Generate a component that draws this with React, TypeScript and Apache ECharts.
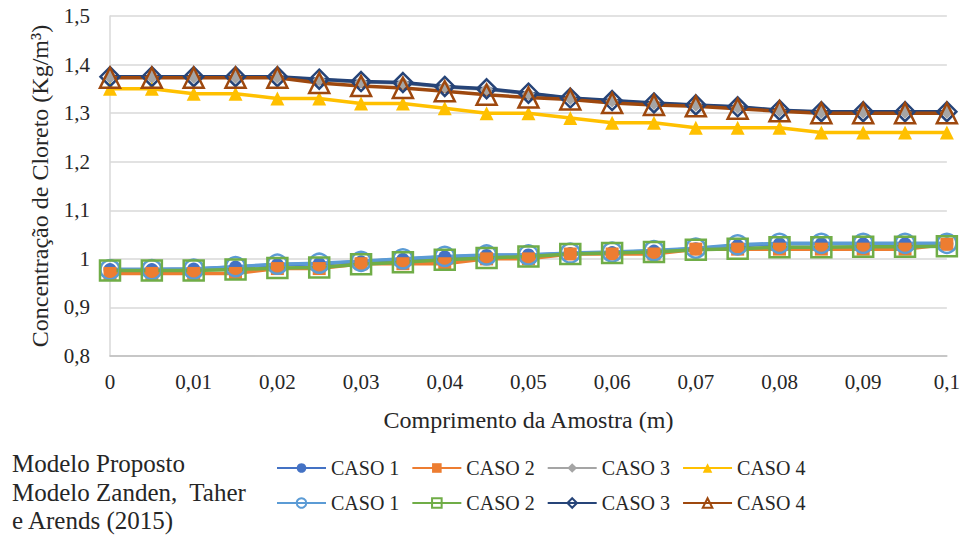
import React, { useEffect, useRef } from "react";
import * as echarts from "echarts";

const categories = [
  "0", "0,005", "0,01", "0,015", "0,02", "0,025", "0,03", "0,035", "0,04", "0,045", "0,05",
  "0,055", "0,06", "0,065", "0,07", "0,075", "0,08", "0,085", "0,09", "0,095", "0,1",
];

// Modelo Proposto
const propCaso1 = [0.978, 0.978, 0.979, 0.983, 0.988, 0.99, 0.994, 0.999, 1.004, 1.007, 1.008, 1.011, 1.013, 1.016, 1.021, 1.027, 1.031, 1.031, 1.031, 1.031, 1.031];
const propCaso2 = [0.97, 0.97, 0.97, 0.97, 0.98, 0.98, 0.99, 0.99, 0.99, 1.0, 1.0, 1.01, 1.01, 1.01, 1.02, 1.02, 1.02, 1.02, 1.02, 1.02, 1.03];
const propCaso3 = [1.374, 1.374, 1.374, 1.374, 1.374, 1.369, 1.364, 1.362, 1.354, 1.349, 1.34, 1.33, 1.325, 1.32, 1.316, 1.312, 1.305, 1.302, 1.302, 1.302, 1.302];
const propCaso4 = [1.35, 1.35, 1.34, 1.34, 1.33, 1.33, 1.32, 1.32, 1.31, 1.3, 1.3, 1.29, 1.28, 1.28, 1.27, 1.27, 1.27, 1.26, 1.26, 1.26, 1.26];

// Modelo Zanden, Taher e Arends (2015)
const zanCaso1 = [0.978, 0.978, 0.979, 0.984, 0.989, 0.991, 0.995, 1.0, 1.005, 1.008, 1.008, 1.012, 1.014, 1.017, 1.022, 1.029, 1.032, 1.032, 1.032, 1.032, 1.032];
const zanCaso2 = [0.976, 0.976, 0.976, 0.978, 0.981, 0.982, 0.989, 0.993, 0.998, 1.002, 1.005, 1.01, 1.012, 1.014, 1.019, 1.021, 1.024, 1.024, 1.025, 1.025, 1.026];
const zanCaso3 = [1.375, 1.375, 1.375, 1.375, 1.375, 1.37, 1.365, 1.363, 1.355, 1.35, 1.341, 1.331, 1.326, 1.321, 1.317, 1.313, 1.306, 1.303, 1.303, 1.303, 1.303];
const zanCaso4 = [1.373, 1.373, 1.373, 1.373, 1.373, 1.362, 1.356, 1.352, 1.345, 1.338, 1.332, 1.328, 1.321, 1.317, 1.314, 1.309, 1.304, 1.3, 1.3, 1.3, 1.3];

const yTicks = { min: 0.8, max: 1.5, interval: 0.1 };

const FONT = "'Liberation Serif', 'Times New Roman', 'DejaVu Serif', serif";
const TXT = "#262626";

type S = {
  id: string;
  data: number[];
  color: string;
  symbol: string;
  size: number;
  hollow: boolean;
};

const seriesDefs: S[] = [
  { id: "CASO 1|P", data: propCaso1, color: "#4472C4", symbol: "circle", size: 13, hollow: false },
  { id: "CASO 2|P", data: propCaso2, color: "#ED7D31", symbol: "rect", size: 13, hollow: false },
  { id: "CASO 3|P", data: propCaso3, color: "#A5A5A5", symbol: "diamond", size: 13, hollow: false },
  { id: "CASO 4|P", data: propCaso4, color: "#FFC000", symbol: "triangle", size: 14, hollow: false },
  { id: "CASO 1|Z", data: zanCaso1, color: "#5B9BD5", symbol: "circle", size: 19, hollow: true },
  { id: "CASO 2|Z", data: zanCaso2, color: "#70AD47", symbol: "rect", size: 20, hollow: true },
  { id: "CASO 3|Z", data: zanCaso3, color: "#264478", symbol: "diamond", size: 19, hollow: true },
  { id: "CASO 4|Z", data: zanCaso4, color: "#9E480E", symbol: "triangle", size: 20, hollow: true },
];

export default function App() {
  const ref = useRef<HTMLDivElement>(null);
  useEffect(() => {
    if (!ref.current) return;
    const chart = echarts.init(ref.current, undefined, { renderer: "svg" });
    const legendCommon = {
      orient: "horizontal",
      itemWidth: 49,
      itemHeight: 12,
      itemGap: 12,
      textStyle: { fontFamily: FONT, fontSize: 20, color: TXT },
      formatter: (n: string) => n.split("|")[0],
      selectedMode: false,
    };
    const gText = (text: string, top: number) => ({
      type: "text",
      left: 12,
      top,
      style: { text, fontFamily: FONT, fontSize: 25, fill: TXT },
    });
    chart.setOption({
      animation: false,
      backgroundColor: "#fff",
      textStyle: { fontFamily: FONT },
      grid: { left: 110, right: 14, top: 16, bottom: 181 },
      xAxis: {
        type: "category",
        data: categories,
        boundaryGap: false,
        axisLine: { lineStyle: { color: "#BFBFBF", width: 1.5 } },
        axisTick: { show: false },
        axisLabel: { interval: 1, fontFamily: FONT, fontSize: 21, color: TXT, margin: 15 },
        name: "Comprimento da Amostra (m)",
        nameLocation: "middle",
        nameGap: 52,
        nameTextStyle: { fontFamily: FONT, fontSize: 24, color: TXT },
      },
      yAxis: {
        type: "value",
        min: yTicks.min,
        max: yTicks.max,
        interval: yTicks.interval,
        axisLine: { show: true, lineStyle: { color: "#D9D9D9", width: 1.5 } },
        axisTick: { show: false },
        splitLine: { lineStyle: { color: "#D9D9D9", width: 1.5 } },
        axisLabel: {
          fontFamily: FONT,
          fontSize: 21,
          color: TXT,
          margin: 20,
          formatter: (v: number) => String(Math.round(v * 10) / 10).replace(".", ","),
        },
        name: "Concentração de Cloreto (Kg/m³)",
        nameLocation: "middle",
        nameGap: 58,
        nameTextStyle: { fontFamily: FONT, fontSize: 24, color: TXT },
      },
      legend: [
        { ...legendCommon, left: 271, top: 453, data: seriesDefs.slice(0, 4).map((s) => s.id) },
        { ...legendCommon, left: 271, top: 488, data: seriesDefs.slice(4).map((s) => s.id) },
      ],
      graphic: [
        gText("Modelo Proposto", 451),
        gText("Modelo Zanden,  Taher", 480),
        gText("e Arends (2015)", 508),
      ],
      series: seriesDefs.map((s) => ({
        name: s.id,
        type: "line",
        data: s.data,
        color: s.color,
        symbol: s.symbol,
        symbolSize: s.size,
        showAllSymbol: true,
        lineStyle: { color: s.color, width: 3.5 },
        itemStyle: s.hollow
          ? { color: "rgba(255,255,255,0)", borderColor: s.color, borderWidth: 2.5 }
          : { color: s.color, borderColor: s.color, borderWidth: 0 },
        emphasis: { disabled: true },
      })),
    });
    return () => chart.dispose();
  }, []);
  return <div ref={ref} style={{ width: 963, height: 537, position: "absolute", left: 0, top: 0 }} />;
}
